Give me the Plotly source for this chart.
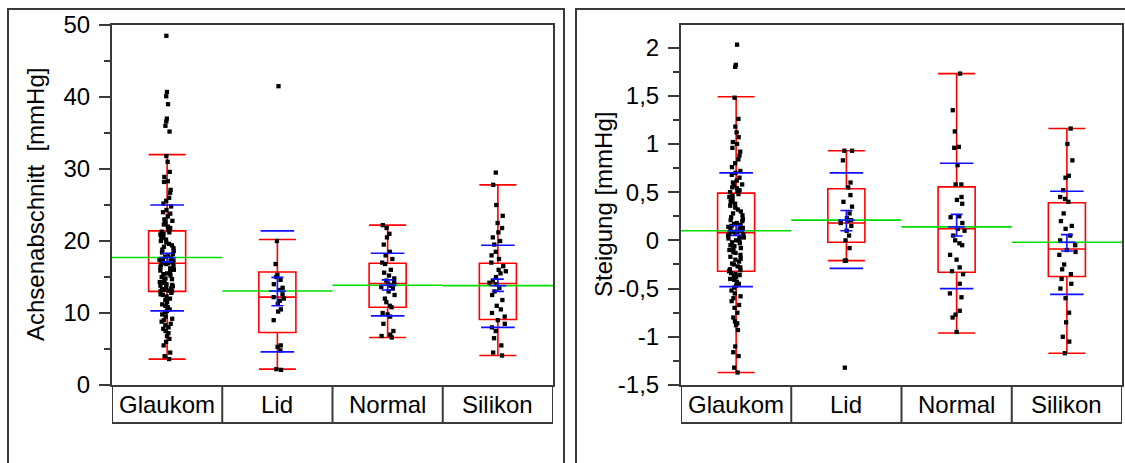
import plotly.graph_objects as go

categories = ["Glaukom", "Lid", "Normal", "Silikon"]

# ---------------- Left panel: Achsenabschnitt [mmHg] ----------------
a_glaukom = [48.5, 40.7, 40.1, 39.0, 37.0, 36.6, 36.0, 35.2,
             31.8, 31.0, 29.6, 28.9, 28.3, 28.2,
             27.1, 26.7, 26.0, 25.6, 25.2, 24.8, 24.3, 24.0,
             23.8, 23.4, 23.0, 22.8, 22.6, 22.3, 22.0, 21.8, 21.5,
             21.3, 21.2, 21.0, 20.9, 20.7, 20.5, 20.4, 20.2, 20.0, 19.8, 19.6, 19.4, 19.2, 19.0,
             18.8, 18.6, 18.4, 18.2, 18.0, 17.8, 17.7, 17.5, 17.4, 17.3, 17.2, 17.1, 17.0, 16.95, 16.9,
             16.8, 16.7, 16.5, 16.4, 16.2, 16.0, 15.9, 15.7, 15.5, 15.4, 15.2, 15.0, 14.8, 14.7,
             14.5, 14.3, 14.2, 14.0, 13.9, 13.8, 13.7, 13.5, 13.4, 13.3, 13.2, 13.1, 13.0, 13.0,
             12.8, 12.6, 12.5, 12.3, 12.0, 11.8, 11.5, 11.2, 11.0, 10.8, 10.5, 10.3, 10.1, 9.8,
             9.5, 9.2, 9.0, 8.8, 8.5, 8.3, 8.0, 7.8, 7.5, 7.2, 6.8, 6.4, 6.0, 5.5, 4.5, 4.0, 3.6]
a_lid = [41.5, 20.0, 16.8, 15.3, 15.0, 14.6, 14.0, 13.5, 13.2, 12.6, 12.2, 12.0, 11.7,
         11.3, 10.5, 10.2, 9.0, 5.5, 5.3, 4.8, 2.2, 2.1]
a_normal = [22.2, 21.8, 21.0, 20.5, 19.5, 18.5, 18.0, 17.5, 17.0, 16.8, 16.0, 15.6, 15.2,
            14.8, 14.5, 14.3, 14.1, 14.0, 13.8, 13.6, 13.4, 13.0, 12.5, 12.0, 11.5, 11.0,
            10.8, 10.0, 9.8, 9.5, 8.5, 7.5, 7.0, 6.8, 6.6]
a_silikon = [29.5, 27.8, 25.0, 23.5, 22.5, 21.8, 21.2, 20.5, 20.0, 19.5, 18.5, 18.0, 17.5,
             17.0, 16.5, 16.0, 15.8, 15.5, 15.0, 14.5, 14.2, 14.0, 13.5, 13.0, 12.5, 11.8,
             11.0, 10.5, 10.0, 9.5, 9.0, 8.5, 8.0, 7.5, 6.5, 5.5, 4.5, 4.1]

a_q1 = [13.0, 7.3, 10.8, 9.1]
a_median = [16.9, 12.2, 14.1, 14.1]
a_q3 = [21.4, 15.7, 16.9, 16.9]
a_lo = [3.6, 2.2, 6.6, 4.1]
a_hi = [32.0, 20.2, 22.2, 27.8]
a_mean = [17.7, 13.05, 13.85, 13.8]
a_sd_lo = [10.3, 4.6, 9.6, 8.0]
a_sd_hi = [25.0, 21.4, 18.3, 19.4]
a_ci_lo = [17.1, 11.0, 13.2, 13.0]
a_ci_hi = [18.3, 14.95, 14.6, 14.7]

a_ticks = [0, 10, 20, 30, 40, 50]
a_ticktext = ["0", "10", "20", "30", "40", "50"]

# ---------------- Right panel: Steigung [mmHg] ----------------
s_glaukom = [2.03, 1.82, 1.80, 1.48, 1.26, 1.18, 1.12, 1.07, 1.02, 1.00, 0.96, 0.92, 0.88,
             0.84, 0.80, 0.76, 0.72, 0.70, 0.68, 0.65, 0.62, 0.60, 0.58, 0.57, 0.55, 0.54,
             0.52, 0.51, 0.50,
             0.48, 0.46, 0.45, 0.43, 0.42, 0.40, 0.38, 0.36, 0.34, 0.32, 0.30, 0.28, 0.26,
             0.24, 0.22, 0.21, 0.20, 0.18, 0.17, 0.16, 0.15, 0.14, 0.13, 0.12, 0.11, 0.10,
             0.09, 0.09, 0.08,
             0.07, 0.06, 0.05, 0.04, 0.03, 0.02, 0.01, 0.00, -0.02, -0.03, -0.05, -0.06,
             -0.08, -0.09, -0.10, -0.12, -0.13, -0.15, -0.17, -0.19, -0.20, -0.22, -0.24,
             -0.25, -0.27, -0.28, -0.30, -0.31, -0.32,
             -0.34, -0.35, -0.36, -0.37, -0.38, -0.40, -0.41, -0.43, -0.45, -0.47, -0.49,
             -0.52, -0.55, -0.58, -0.60, -0.63, -0.67, -0.70, -0.75, -0.80, -0.84, -0.86,
             -0.88, -0.93, -1.10, -1.16, -1.20, -1.32, -1.37]
s_lid = [0.93, 0.93, 0.83, 0.60, 0.55, 0.47, 0.40, 0.35, 0.28, 0.23, 0.21, 0.20, 0.18, 0.15,
         0.10, 0.05, 0.00, -0.08, -0.21, -0.21, -1.32]
s_normal = [1.73, 1.35, 1.13, 0.97, 0.96, 0.78, 0.58, 0.58, 0.45, 0.42, 0.38, 0.25, 0.24,
            0.18, 0.12, 0.10, 0.05, 0.00, -0.03, -0.05, -0.15, -0.20, -0.28, -0.32, -0.35,
            -0.45, -0.55, -0.59, -0.73, -0.77, -0.80, -0.95]
s_silikon = [1.16, 1.00, 0.83, 0.67, 0.65, 0.52, 0.45, 0.43, 0.40, 0.28, 0.20, 0.15, 0.12,
             0.05, 0.00, -0.05, -0.10, -0.12, -0.15, -0.25, -0.30, -0.35, -0.40, -0.45,
             -0.50, -0.60, -0.75, -0.85, -1.00, -1.05, -1.17]

s_q1 = [-0.32, -0.02, -0.33, -0.375]
s_median = [0.08, 0.18, 0.12, -0.09]
s_q3 = [0.49, 0.535, 0.555, 0.39]
s_lo = [-1.37, -0.21, -0.96, -1.17]
s_hi = [1.49, 0.93, 1.73, 1.16]
s_mean = [0.10, 0.21, 0.14, -0.02]
s_sd_lo = [-0.48, -0.29, -0.50, -0.56]
s_sd_hi = [0.70, 0.70, 0.80, 0.51]
s_ci_lo = [0.05, 0.10, 0.045, -0.11]
s_ci_hi = [0.155, 0.31, 0.27, 0.06]

s_ticks = [-1.5, -1, -0.5, 0, 0.5, 1, 1.5, 2]
s_ticktext = ["-1,5", "-1", "-0,5", "0", "0,5", "1", "1,5", "2"]

# ---------------- styling ----------------
W, H = 1125, 463
FONT = "Arial, Liberation Sans, sans-serif"
FRAME = "#3a3a3a"
RED = "#ff0000"
BLUE = "#1010ff"
GREEN = "#00dd00"

def px(x):
    return x / W

def py(y):
    return 1 - y / H

ydom = [py(385), py(25)]
label_bottom = py(423)

fig = go.Figure()

panels = [
    dict(xa="x", ya="y", groups=[a_glaukom, a_lid, a_normal, a_silikon],
         q1=a_q1, med=a_median, q3=a_q3, lo=a_lo, hi=a_hi, mean=a_mean,
         sdlo=a_sd_lo, sdhi=a_sd_hi, cilo=a_ci_lo, cihi=a_ci_hi),
    dict(xa="x2", ya="y2", groups=[s_glaukom, s_lid, s_normal, s_silikon],
         q1=s_q1, med=s_median, q3=s_q3, lo=s_lo, hi=s_hi, mean=s_mean,
         sdlo=s_sd_lo, sdhi=s_sd_hi, cilo=s_ci_lo, cihi=s_ci_hi),
]

idx = list(range(len(categories)))

for p in panels:
    # quantile boxes
    fig.add_trace(go.Box(
        x=idx, q1=p["q1"], median=p["med"], q3=p["q3"],
        lowerfence=p["lo"], upperfence=p["hi"],
        width=0.336, whiskerwidth=1, boxpoints=False,
        line=dict(color=RED, width=1.6), fillcolor="rgba(0,0,0,0)",
        xaxis=p["xa"], yaxis=p["ya"], hoverinfo="skip"))
    # jittered points
    xs, ys = [], []
    for i, g in enumerate(p["groups"]):
        xs += [i] * len(g)
        ys += g
    fig.add_trace(go.Box(
        x=xs, y=ys, boxpoints="all", jitter=0.55, pointpos=0, width=0.3,
        line=dict(width=0, color="rgba(0,0,0,0)"), fillcolor="rgba(0,0,0,0)",
        marker=dict(symbol="square", size=4.3, color="black"),
        xaxis=p["xa"], yaxis=p["ya"], hoverinfo="skip"))
    # group mean lines (green) spanning the category cell
    gx, gy = [], []
    for i, m in enumerate(p["mean"]):
        gx += [i - 0.5, i + 0.5, None]
        gy += [m, m, None]
    fig.add_trace(go.Scatter(x=gx, y=gy, mode="lines",
                             line=dict(color=GREEN, width=1.6),
                             xaxis=p["xa"], yaxis=p["ya"], hoverinfo="skip"))
    # std dev lines (blue)
    fig.add_trace(go.Scatter(
        x=idx + idx, y=p["sdhi"] + p["sdlo"], mode="markers",
        marker=dict(symbol="line-ew", size=24, line=dict(color=BLUE, width=1.6)),
        xaxis=p["xa"], yaxis=p["ya"], hoverinfo="skip"))
    # mean with confidence interval (blue)
    fig.add_trace(go.Scatter(
        x=idx, y=p["mean"], mode="markers",
        marker=dict(symbol="line-ew", size=12, line=dict(color=BLUE, width=1.6)),
        error_y=dict(type="data", symmetric=False,
                     array=[h - m for h, m in zip(p["cihi"], p["mean"])],
                     arrayminus=[m - l for m, l in zip(p["mean"], p["cilo"])],
                     color=BLUE, thickness=1.6, width=6),
        xaxis=p["xa"], yaxis=p["ya"], hoverinfo="skip"))

axis_common = dict(showline=True, mirror=True, linecolor=FRAME, linewidth=2,
                   showgrid=False, zeroline=False, automargin=False)

shapes = []
annotations = []
xdoms = [[px(112), px(553)], [px(681), px(1122)]]
for k, xa in enumerate(["x", "x2"]):
    # category label cells
    n = len(categories)
    shapes.append(dict(type="line", xref=xa, yref="paper", x0=-0.5, x1=n - 0.5,
                       y0=label_bottom, y1=label_bottom, line=dict(color=FRAME, width=2)))
    for j in range(n + 1):
        shapes.append(dict(type="line", xref=xa, yref="paper", x0=j - 0.5, x1=j - 0.5,
                           y0=label_bottom, y1=ydom[0], line=dict(color=FRAME, width=2)))
    for i, c in enumerate(categories):
        annotations.append(dict(text=c, xref=xa, yref="paper", x=i,
                                y=(label_bottom + ydom[0]) / 2, showarrow=False,
                                xanchor="center", yanchor="middle",
                                font=dict(family=FONT, size=24, color="black")))

# outer frames
shapes.append(dict(type="rect", xref="paper", yref="paper", x0=px(8), x1=px(564),
                   y0=-0.1, y1=py(9), line=dict(color=FRAME, width=2)))
shapes.append(dict(type="rect", xref="paper", yref="paper", x0=px(576), x1=1.1,
                   y0=-0.1, y1=py(9), line=dict(color=FRAME, width=2)))

# axis titles
annotations.append(dict(text="Achsenabschnitt\u00a0 [mmHg]", xref="paper", yref="paper",
                        x=px(35), y=py(205), textangle=-90, showarrow=False,
                        xanchor="center", yanchor="middle",
                        font=dict(family=FONT, size=24, color="black")))
annotations.append(dict(text="Steigung [mmHg]", xref="paper", yref="paper",
                        x=px(603), y=py(205), textangle=-90, showarrow=False,
                        xanchor="center", yanchor="middle",
                        font=dict(family=FONT, size=24, color="black")))

ytick_common = dict(ticks="outside", ticklen=11, tickwidth=2, tickcolor=FRAME,
                    ticklabelstandoff=4,
                    tickfont=dict(family=FONT, size=24, color="black"))

fig.update_layout(
    width=W, height=H, margin=dict(l=0, r=0, t=0, b=0, autoexpand=False),
    paper_bgcolor="white", plot_bgcolor="white", showlegend=False,
    boxmode="overlay",
    xaxis=dict(domain=xdoms[0], range=[-0.5, 3.5], showticklabels=False, ticks="",
               anchor="y", **axis_common),
    xaxis2=dict(domain=xdoms[1], range=[-0.5, 3.5], showticklabels=False, ticks="",
                anchor="y2", **axis_common),
    yaxis=dict(domain=ydom, range=[0, 50], anchor="x", tickvals=a_ticks,
               ticktext=a_ticktext,
               minor=dict(dtick=5, ticklen=6, ticks="outside", tickcolor=FRAME, tickwidth=2),
               **ytick_common, **axis_common),
    yaxis2=dict(domain=ydom, range=[-1.5, 2.234], anchor="x2", tickvals=s_ticks,
                ticktext=s_ticktext,
                minor=dict(dtick=0.25, tick0=0, ticklen=6, ticks="outside", tickcolor=FRAME,
                           tickwidth=2),
                **ytick_common, **axis_common),
    shapes=shapes, annotations=annotations,
)

fig.write_html("out.html")
